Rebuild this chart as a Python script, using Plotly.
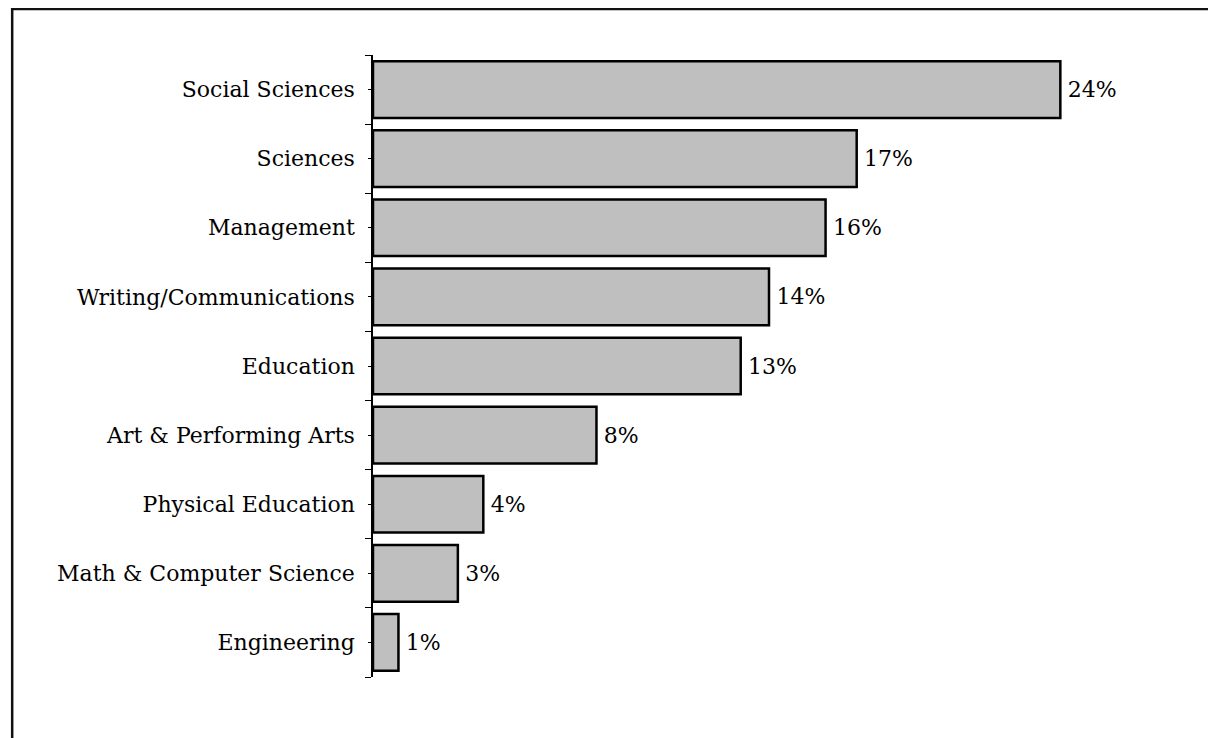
import plotly.graph_objects as go

categories = ["Social Sciences", "Sciences", "Management", "Writing/Communications",
              "Education", "Art & Performing Arts", "Physical Education",
              "Math & Computer Science", "Engineering"]
values = [24.3, 17.1, 16.0, 14.0, 13.0, 7.9, 3.9, 3.0, 0.9]
labels = ["24%", "17%", "16%", "14%", "13%", "8%", "4%", "3%", "1%"]

n = len(categories)
ypos = list(range(n))

OFF = 8  # page body margin
W, H = 1216, 738
L, T = 373 - OFF, 55 - OFF
plot_bottom = 677 - OFF
B = H - plot_bottom
px_per_unit = 28.3
xmax = 28
R = W - L - xmax * px_per_unit

fig = go.Figure(go.Bar(
    x=values, y=ypos, orientation="h",
    text=labels, texttemplate="\u2009%{text}", textposition="outside", cliponaxis=False,
    textfont=dict(family="DejaVu Serif", size=22, color="black"),
    marker=dict(color="#bfbfbf", line=dict(color="black", width=2.5)),
    width=0.82, hoverinfo="skip",
))

pw = W - L - R
ph = H - T - B
fl = (12 - OFF - L) / pw
fr = (W + 10 - L) / pw
ft = 1 + (T - (9 - OFF)) / ph
fb = -(B + 10) / ph
fig.add_shape(type="path", xref="paper", yref="paper",
              path=f"M {fl},{fb} L {fl},{ft} L {fr},{ft}",
              line=dict(color="#111", width=2.5))

fig.update_layout(
    width=W, height=H,
    margin=dict(l=L, r=R, t=T, b=B, pad=0),
    paper_bgcolor="white", plot_bgcolor="white",
    showlegend=False,
    font=dict(family="DejaVu Serif", size=22, color="black"),
    xaxis=dict(range=[0, xmax], visible=False, fixedrange=True),
    yaxis=dict(range=[n - 0.5, -0.5], tickmode="array", tickvals=ypos, ticktext=categories,
               showline=True, linecolor="black", linewidth=1.5,
               ticks="outside", ticklen=3, tickwidth=1, tickcolor="black",
               ticklabelstandoff=9,
               minor=dict(tickvals=[i - 0.5 for i in range(n + 1)], ticks="outside",
                          ticklen=6, tickwidth=1, tickcolor="black"),
               showgrid=False, zeroline=False, fixedrange=True,
               tickfont=dict(family="DejaVu Serif", size=22, color="black")),
)

fig.write_html("out.html")
